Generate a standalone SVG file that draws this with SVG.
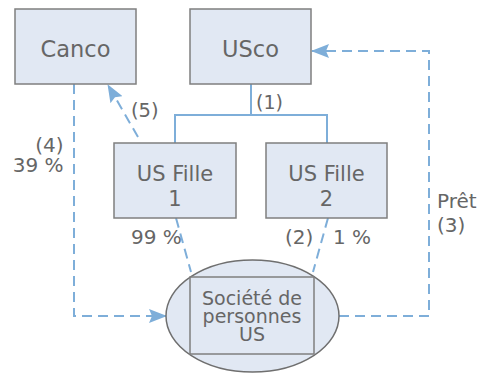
<svg xmlns="http://www.w3.org/2000/svg" width="483" height="373" viewBox="0 0 483 373">
<defs>
<style>
.box{fill:#e1e8f3;stroke:#7f7f7f;stroke-width:1.5}
.t{font-family:"DejaVu Sans",sans-serif;fill:#666666}
.c{text-anchor:middle}
.solid{fill:none;stroke:#7eaed9;stroke-width:2}
.dash{fill:none;stroke:#7eaed9;stroke-width:2;stroke-dasharray:10 6}
</style>
<marker id="ah" viewBox="0 0 18 14" refX="17" refY="7" markerWidth="18" markerHeight="14" markerUnits="userSpaceOnUse" orient="auto">
<path d="M0,0 L18,7 L0,14 L3,7 Z" fill="#7eaed9"/>
</marker>
</defs>
<rect width="483" height="373" fill="#ffffff"/>
<g id="connectors">
<path class="solid" d="M251,84 V115 M175,143 V115 H327 V143"/>
<path class="dash" d="M74,84 V316 H166" marker-end="url(#ah)"/>
<path class="dash" d="M138,137 L108,85" marker-end="url(#ah)"/>
<path class="dash" d="M339,316 H429 V51 H312" marker-end="url(#ah)"/>
<path class="dash" d="M176,218 L191,272"/>
<path class="dash" d="M328,218 L313,272"/>
</g>
<g id="canco">
<rect class="box" x="15" y="9" width="121" height="75"/>
<text class="t c" x="75.5" y="56.5" font-size="22.5">Canco</text>
</g>
<g id="usco">
<rect class="box" x="190" y="9" width="121" height="75"/>
<text class="t c" x="250.5" y="56.5" font-size="22.5">USco</text>
</g>
<g id="usfille1">
<rect class="box" x="114" y="143" width="122" height="75"/>
<text class="t c" x="175" y="180.5" font-size="21">US Fille</text>
<text class="t c" x="175" y="206" font-size="21">1</text>
</g>
<g id="usfille2">
<rect class="box" x="266" y="143" width="121" height="75"/>
<text class="t c" x="326.5" y="180.5" font-size="21">US Fille</text>
<text class="t c" x="326.5" y="206" font-size="21">2</text>
</g>
<g id="societe">
<ellipse cx="252.5" cy="316" rx="86.5" ry="56" fill="#e1e8f3" stroke="#6f6f6f" stroke-width="1.5"/>
<rect x="190" y="277" width="124" height="77" fill="none" stroke="#7f7f7f" stroke-width="1.5"/>
<text class="t c" font-size="19"><tspan x="252" y="305">Société de</tspan><tspan x="252" y="323">personnes</tspan><tspan x="252" y="341">US</tspan></text>
</g>
<g id="labels">
<text class="t" x="256" y="108.5" font-size="19">(1)</text>
<text class="t" x="131" y="116.5" font-size="19.5">(5)</text>
<text class="t" font-size="20" text-anchor="end"><tspan x="63.5" y="151.5">(4)</tspan><tspan x="63.5" y="171.7">39 %</tspan></text>
<text class="t" x="131" y="243.5" font-size="20">99 %</text>
<text class="t" x="285" y="243.5" font-size="20">(2)</text>
<text class="t" x="333" y="243.5" font-size="20">1 %</text>
<text class="t" font-size="20"><tspan x="437" y="208.3">Prêt</tspan><tspan x="437" y="231.7">(3)</tspan></text>
</g>
</svg>
